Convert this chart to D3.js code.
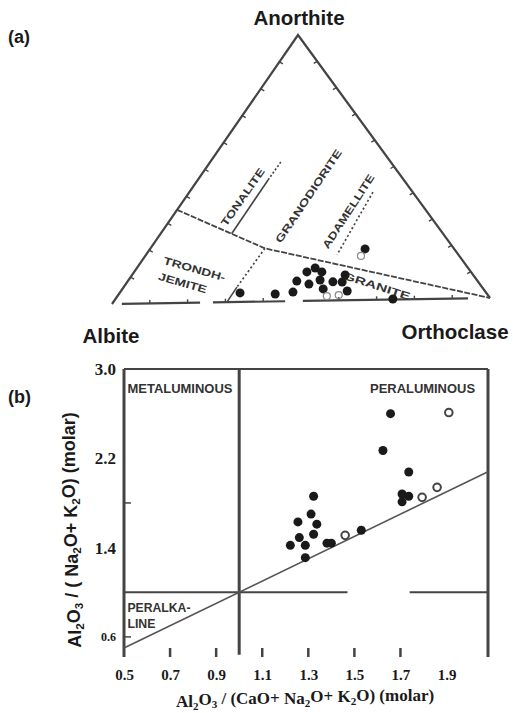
<!DOCTYPE html>
<html><head><meta charset="utf-8">
<script src="https://cdn.jsdelivr.net/npm/d3@7"></script>
<style>body{margin:0;background:#fff}svg{display:block}</style>
</head><body>
<svg id="c" width="513" height="713"></svg>
<script>
// ---------- (a) An-Ab-Or ternary, values in % (An, Ab, Or) ----------
const triFilled = [
  [3.4,64.4,32.2],[2.8,55.4,41.8],[3.4,50.4,46.2],[7.5,47.3,45.2],
  [10.9,42.9,46.2],[12.3,40.0,47.7],[10.8,39.0,50.2],[6.3,44.7,49.0],
  [7.8,41.0,51.2],[4.4,41.9,53.7],[7.0,38.0,55.0],[9.5,33.5,57.0],
  [6.9,35.6,57.5],[3.5,36.0,60.5],[19.2,23.3,57.5],[0.2,25.6,74.2]
];
const triOpen = [[1.7,42.3,56.0],[2.0,39.0,59.0],[16.6,25.7,57.7]];
const boundaryMain = [[35,65,0],[20,49.4,30.6],[0,0,100]];
const boundaryTonSolid = [[25.7,55.3,19.0],[45.7,35.5,18.8]];
const boundaryTonDotted = [[45.7,35.5,18.8],[52.4,28.7,18.9]];
const boundaryTrdDotted = [[20,49.4,30.6],[5.6,64.1,30.3]];
const boundaryTrdSolid = [[5.6,64.1,30.3],[0,69.6,30.4]];
const boundaryAdaDashed = [[40.5,10.4,49.1],[17.1,31.8,51.1]];
const bottomSegments = [[2.6,23.3],[26.7,45.8],[50.5,94.2]]; // Or % along Ab-Or edge
const edgeTicks = [10,20,30,40,50,60,70,80,90];
const fieldLabels = [
  {t:"TONALITE", p:[39.4,45.4,15.2], a:-55, w:68},
  {t:"GRANODIORITE", p:[39.4,28.0,32.6], a:-56, w:110},
  {t:"ADAMELLITE", p:[33.4,20.5,46.1], a:-57, w:86},
  {t:"TRONDH-", p:[12.7,71.7,15.6], a:16, w:64},
  {t:"JEMITE", p:[7.5,77.5,15.0], a:16, w:50},
  {t:"GRANITE", p:[5.2,27.3,67.5], a:18, w:70}
];
const apexLabels = [
  {t:"Anorthite", p:[100,0,0], dx:1, dy:-17},
  {t:"Albite", p:[0,100,0], dx:-1, dy:32},
  {t:"Orthoclase", p:[0,0,100], dx:-35, dy:34}
];

// ---------- (b) Shand diagram ----------
const acnkFilled = [1.657,1.624,1.736,1.707,1.736,1.707,1.323,1.312,1.337,1.255,1.261,1.323,1.222,1.287,1.287,1.381,1.400,1.530];
const ankFilled  = [2.60,2.27,2.077,1.88,1.86,1.81,1.86,1.70,1.61,1.63,1.49,1.52,1.42,1.42,1.31,1.44,1.44,1.555];
const acnkOpen = [1.91,1.859,1.794,1.46];
const ankOpen  = [2.61,1.94,1.85,1.51];
const xTickValues = [0.5,0.7,0.9,1.1,1.3,1.5,1.7,1.9];
const xMinorTicks = [0.7,0.9,1.1,1.3,1.5,1.7];
const yTickValues = [0.6,1.4,2.2,3.0];
const yInnerTicks = [0.6,1.8];
const refLineGap = [1.47,1.74];

const svg = d3.select("#c");
const ink = "#1a1a1a", line = "#444";

// ternary scales (barycentric offsets from Albite corner)
const ab0 = [112,304];
const anX = d3.scaleLinear([0,100],[0,186]), anY = d3.scaleLinear([0,100],[0,-269]);
const orX = d3.scaleLinear([0,100],[0,378]), orY = d3.scaleLinear([0,100],[0,-6]);
const T = d => [ab0[0]+anX(d[0])+orX(d[2]), ab0[1]+anY(d[0])+orY(d[2])];
const tl = d3.line().x(d=>T(d)[0]).y(d=>T(d)[1]);

const ga = svg.append("g");
ga.append("path").attr("d", tl([[0,100,0],[100,0,0],[0,0,100]]))
  .attr("fill","none").attr("stroke",line).attr("stroke-width",2.2).attr("stroke-linejoin","miter");
bottomSegments.forEach(s=>{
  ga.append("path").attr("d", tl([[0,100-s[0],s[0]],[0,100-s[1],s[1]]]))
    .attr("fill","none").attr("stroke",line).attr("stroke-width",2.2);
});
edgeTicks.forEach(v=>{
  let p=T([v,100-v,0]);
  ga.append("line").attr("x1",p[0]).attr("y1",p[1]).attr("x2",p[0]+3.5).attr("y2",p[1]+2)
    .attr("stroke",line).attr("stroke-width",1.4);
  p=T([v,0,100-v]);
  ga.append("line").attr("x1",p[0]).attr("y1",p[1]).attr("x2",p[0]-3.5).attr("y2",p[1]+2)
    .attr("stroke",line).attr("stroke-width",1.4);
  const inSeg = bottomSegments.some(s=>v>=s[0]&&v<=s[1]);
  if(inSeg){ p=T([0,100-v,v]);
    ga.append("line").attr("x1",p[0]).attr("y1",p[1]).attr("x2",p[0]).attr("y2",p[1]-3.5)
      .attr("stroke",line).attr("stroke-width",1.4);}
});
const bstyle=(sel,w,dash)=>sel.attr("fill","none").attr("stroke",line).attr("stroke-width",w).attr("stroke-dasharray",dash);
bstyle(ga.append("path").attr("d",tl(boundaryMain)),1.8,"6,1.5");
bstyle(ga.append("path").attr("d",tl(boundaryTonSolid)),1.6,null);
bstyle(ga.append("path").attr("d",tl(boundaryTonDotted)),1.6,"2,2");
bstyle(ga.append("path").attr("d",tl(boundaryTrdDotted)),1.7,"2,2.5");
bstyle(ga.append("path").attr("d",tl(boundaryTrdSolid)),1.6,null);
bstyle(ga.append("path").attr("d",tl(boundaryAdaDashed)),1.7,"2,2.5");
fieldLabels.forEach(f=>{
  const p=T(f.p);
  ga.append("text").attr("transform",`translate(${p[0]},${p[1]}) rotate(${f.a})`)
    .attr("text-anchor","middle").attr("dy","0.35em")
    .attr("font-family","Liberation Sans, Arial, sans-serif").attr("font-weight","bold")
    .attr("font-size",10.5).attr("fill","#333")
    .attr("textLength",f.w).attr("lengthAdjust","spacingAndGlyphs").text(f.t);
});
apexLabels.forEach(l=>{
  const p=T(l.p);
  svg.append("text").attr("x",p[0]+l.dx).attr("y",p[1]+l.dy).attr("text-anchor","middle")
    .attr("dy","0.35em").attr("font-family","Liberation Sans, Arial, sans-serif")
    .attr("font-weight","bold").attr("font-size",20.5).attr("fill",ink).text(l.t);
});
ga.selectAll("circle.f").data(triFilled).join("circle")
  .attr("cx",d=>T(d)[0]).attr("cy",d=>T(d)[1]).attr("r",4.5).attr("fill",ink);
ga.selectAll("circle.o").data(triOpen).join("circle")
  .attr("cx",d=>T(d)[0]).attr("cy",d=>T(d)[1]).attr("r",3.5)
  .attr("fill","none").attr("stroke","#888").attr("stroke-width",1.2);

[["(a)",37],["(b)",397]].forEach(d=>{
  svg.append("text").attr("x",8).attr("y",d[1]).attr("dy","0.35em")
    .attr("font-family","Liberation Sans, Arial, sans-serif").attr("font-weight","bold")
    .attr("font-size",18).attr("fill",ink).text(d[0]);
});

// ---------- (b) ----------
const x = d3.scaleLinear([0.5,2.08],[124,488]);
const y = d3.scaleLinear([0.42,3.0],[657,369]);
const gb = svg.append("g");
gb.append("line").attr("x1",x(0.5)).attr("x2",x(0.5)).attr("y1",y(3.0)).attr("y2",y(0.42)).attr("stroke",line).attr("stroke-width",3);
gb.append("line").attr("x1",x(2.08)).attr("x2",x(2.08)).attr("y1",y(3.0)).attr("y2",y(0.42)).attr("stroke",line).attr("stroke-width",3);
gb.append("line").attr("x1",x(0.5)).attr("x2",x(2.08)).attr("y1",y(3.0)).attr("y2",y(3.0)).attr("stroke",line).attr("stroke-width",2);
gb.append("line").attr("x1",x(1.0)).attr("x2",x(1.0)).attr("y1",y(3.0)).attr("y2",y(0.44)).attr("stroke",line).attr("stroke-width",3);
gb.append("line").attr("x1",x(0.5)).attr("x2",x(refLineGap[0])).attr("y1",y(1.0)).attr("y2",y(1.0)).attr("stroke",line).attr("stroke-width",2);
gb.append("line").attr("x1",x(refLineGap[1])).attr("x2",x(2.08)).attr("y1",y(1.0)).attr("y2",y(1.0)).attr("stroke",line).attr("stroke-width",2);
gb.append("line").attr("x1",x(0.5)).attr("x2",x(2.08)).attr("y1",y(0.5)).attr("y2",y(2.08)).attr("stroke","#555").attr("stroke-width",1.6);
yInnerTicks.forEach(v=>gb.append("line").attr("x1",x(0.5)).attr("x2",x(0.5)+7).attr("y1",y(v)).attr("y2",y(v)).attr("stroke",line).attr("stroke-width",1.5));
xMinorTicks.forEach(v=>gb.append("line").attr("x1",x(v)).attr("x2",x(v)).attr("y1",y(0.42)-9).attr("y2",y(0.42)).attr("stroke",line).attr("stroke-width",2.5));
const xa = gb.append("g").attr("transform",`translate(0,${y(0.42)})`)
  .call(d3.axisBottom(x).tickValues(xTickValues).tickSize(0).tickPadding(12).tickFormat(d3.format(".1f")));
xa.select(".domain").remove();
xa.selectAll("text").attr("font-family","Liberation Serif, Times New Roman, serif").attr("font-weight","bold").attr("font-size",15).attr("fill",ink);
const ya = gb.append("g").attr("transform",`translate(${x(0.5)},0)`)
  .call(d3.axisLeft(y).tickValues(yTickValues).tickSize(0).tickPadding(8).tickFormat(d3.format(".1f")));
ya.select(".domain").remove();
ya.selectAll("text").attr("font-family","Liberation Serif, Times New Roman, serif").attr("font-weight","bold").attr("font-size",d=>d<1?12:17).attr("fill",ink);

const reg = [
  {t:"METALUMINOUS", x:0.515, y:2.82, w:105},
  {t:"PERALUMINOUS", x:1.568, y:2.82, w:105},
  {t:"PERALKA-", x:0.515, y:0.865, w:63},
  {t:"LINE", x:0.515, y:0.72, w:28}
];
reg.forEach(r=>gb.append("text").attr("x",x(r.x)).attr("y",y(r.y)).attr("dy","0.35em")
  .attr("font-family","Liberation Sans, Arial, sans-serif").attr("font-weight","bold").attr("font-size",12)
  .attr("fill","#333").attr("textLength",r.w).attr("lengthAdjust","spacingAndGlyphs").text(r.t));

gb.selectAll("circle.f").data(acnkFilled).join("circle").attr("class","f")
  .attr("cx",(d)=>x(d)).attr("cy",(d,i)=>y(ankFilled[i])).attr("r",4.5).attr("fill",ink);
gb.selectAll("circle.o").data(acnkOpen).join("circle").attr("class","o")
  .attr("cx",(d)=>x(d)).attr("cy",(d,i)=>y(ankOpen[i])).attr("r",3.8)
  .attr("fill","#fff").attr("stroke","#444").attr("stroke-width",2);

const xt = svg.append("text").attr("x",305).attr("y",701).attr("text-anchor","middle").attr("dy","0.35em")
  .attr("font-family","Liberation Serif, Times New Roman, serif").attr("font-weight","bold").attr("font-size",17).attr("fill",ink);
const sub = (t,s)=>{t.append("tspan").attr("font-size","0.65em").attr("dy","0.25em").text(s);};
const norm = (t,s)=>{t.append("tspan").attr("dy","-0.25em").text(s);};
xt.append("tspan").text("Al"); sub(xt,"2"); norm(xt,"O"); sub(xt,"3"); norm(xt," / (CaO+ Na"); sub(xt,"2"); norm(xt,"O+ K"); sub(xt,"2"); norm(xt,"O) (molar)");
const yt = svg.append("text").attr("transform","translate(75,530) rotate(-90)").attr("text-anchor","middle").attr("dy","0.35em")
  .attr("font-family","Liberation Sans, Arial, sans-serif").attr("font-weight","bold").attr("font-size",18).attr("fill",ink);
yt.append("tspan").text("Al"); sub(yt,"2"); norm(yt,"O"); sub(yt,"3"); norm(yt," / ( Na"); sub(yt,"2"); norm(yt,"O+ K"); sub(yt,"2"); norm(yt,"O) (molar)");
</script>
</body></html>
